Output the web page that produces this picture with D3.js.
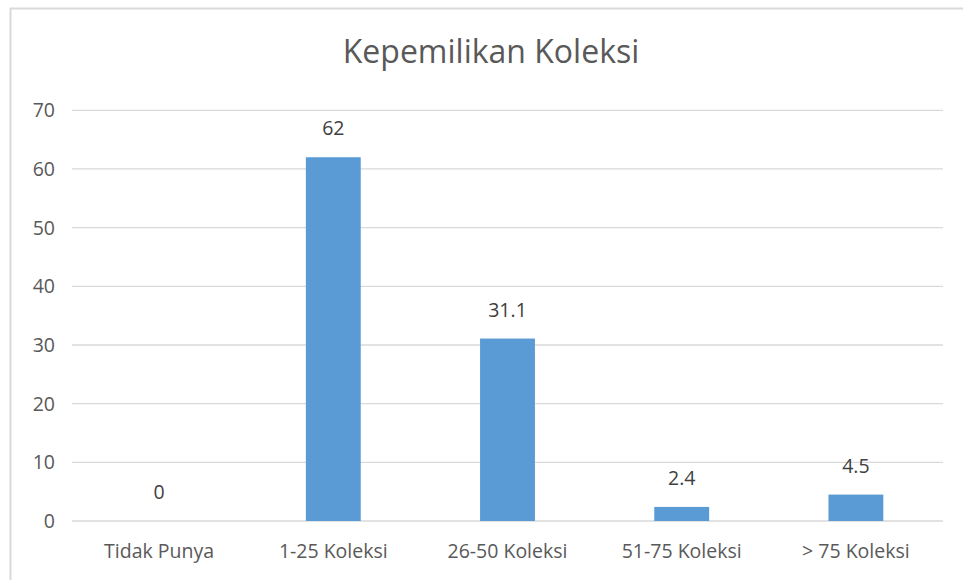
<!DOCTYPE html>
<html lang="en">
<head>
    <meta charset="UTF-8">
    <title>Kepemilikan Koleksi</title>
    <script src="https://d3js.org/d3.v7.min.js"></script>
    <style>
        body { margin: 0; background: #fff; }
        text { font-family: "Open Sans", "Noto Sans", sans-serif; fill: #595959; }
    </style>
</head>
<body>
    <svg id="chart" width="963" height="580"></svg>
    <script>
        var categories = ["Tidak Punya", "1-25 Koleksi", "26-50 Koleksi", "51-75 Koleksi", "> 75 Koleksi"];
        var values = [0, 62, 31.1, 2.4, 4.5];
        var yTicks = [0, 10, 20, 30, 40, 50, 60, 70];

        var svg = d3.select("#chart");

        // chart frame
        svg.append("rect")
            .attr("x", 10.5).attr("y", 8.5)
            .attr("width", 970).attr("height", 600)
            .attr("fill", "none")
            .attr("stroke", "#d9d9d9")
            .attr("stroke-width", 2);

        var plotLeft = 72, plotRight = 943, plotTop = 110.3, plotBottom = 521;

        var x = d3.scaleBand()
            .domain(categories)
            .range([plotLeft, plotRight])
            .paddingInner(0.685)
            .paddingOuter(0.3425);

        var y = d3.scaleLinear()
            .domain([0, 70])
            .range([plotBottom, plotTop]);

        // gridlines
        svg.append("g")
            .selectAll("line")
            .data(yTicks)
            .enter()
            .append("line")
            .attr("x1", plotLeft)
            .attr("x2", plotRight)
            .attr("y1", function(d) { return y(d); })
            .attr("y2", function(d) { return y(d); })
            .attr("stroke", "#d9d9d9")
            .attr("stroke-width", 1.3);

        // y tick labels
        svg.append("g")
            .selectAll("text")
            .data(yTicks)
            .enter()
            .append("text")
            .attr("x", 55)
            .attr("y", function(d) { return y(d) + 7; })
            .attr("text-anchor", "end")
            .attr("font-size", 19.5)
            .text(function(d) { return d; });

        // bars
        svg.append("g")
            .selectAll("rect")
            .data(values)
            .enter()
            .append("rect")
            .attr("x", function(d, i) { return x(categories[i]); })
            .attr("y", function(d) { return y(d); })
            .attr("width", x.bandwidth())
            .attr("height", function(d) { return y(0) - y(d); })
            .attr("fill", "#5b9bd5");

        // value labels
        svg.append("g")
            .selectAll("text")
            .data(values)
            .enter()
            .append("text")
            .attr("x", function(d, i) { return x(categories[i]) + x.bandwidth() / 2; })
            .attr("y", function(d) { return y(d) - 22; })
            .attr("text-anchor", "middle")
            .attr("font-size", 19.5)
            .style("fill", "#404040")
            .text(function(d) { return d; });

        // category labels
        svg.append("g")
            .selectAll("text")
            .data(categories)
            .enter()
            .append("text")
            .attr("x", function(d) { return x(d) + x.bandwidth() / 2; })
            .attr("y", 558)
            .attr("text-anchor", "middle")
            .attr("font-size", 19.5)
            .text(function(d) { return d; });

        // title
        svg.append("text")
            .attr("x", 491)
            .attr("y", 63)
            .attr("text-anchor", "middle")
            .attr("font-size", 32)
            .text("Kepemilikan Koleksi");
    </script>
</body>
</html>
